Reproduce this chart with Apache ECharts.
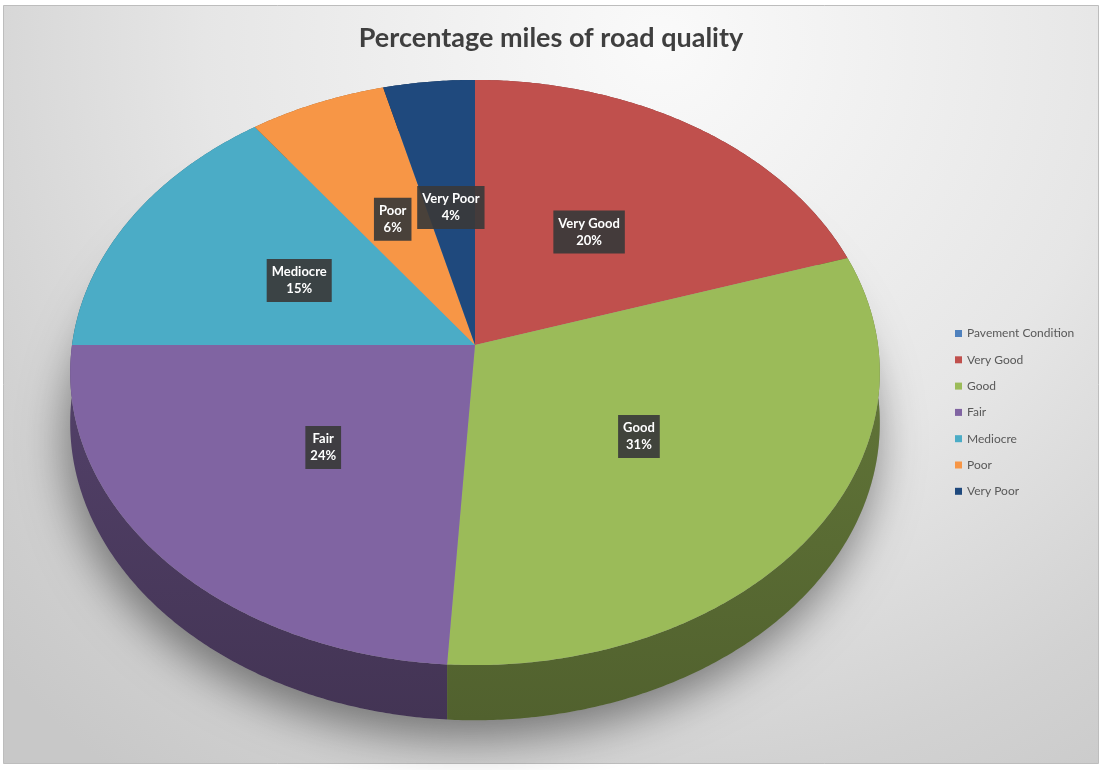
<!DOCTYPE html>
<html>
<head>
<meta charset="utf-8">
<script src="https://cdn.jsdelivr.net/npm/echarts@6/dist/echarts.min.js"></script>
<style>
html,body{margin:0;padding:0;background:#ffffff;}
#chart{width:1102px;height:770px;}
</style>
</head>
<body>
<div id="chart"></div>
<script>
// ---- data ----
const seriesName = 'Pavement Condition';
const categories = ['Very Good', 'Good', 'Fair', 'Mediocre', 'Poor', 'Very Poor'];
const values = [20, 31, 24, 15, 6, 4];
const legendNames = ['Pavement Condition', 'Very Good', 'Good', 'Fair', 'Mediocre', 'Poor', 'Very Poor'];
const legendValues = [0, 20, 31, 24, 15, 6, 4];

// ---- styles ----
const palette = ['#C0504D', '#9BBB59', '#8064A2', '#4BACC6', '#F79646', '#1F497D'];
const legendPalette = ['#4F81BD'].concat(palette);

// ---- 3D pie geometry (perspective projection) ----
const G = { cx: 475, cy: 345, rx: 403, ry: 290, k: 0.094, h: 50 };
const total = values.reduce((a, b) => a + b, 0);
const startFrac = [];
(function () { let c = 0; values.forEach(v => { startFrac.push(c / total); c += v; }); })();

function proj(theta, r, dz) {
  const x3 = r * Math.sin(theta);
  const d = -r * Math.cos(theta);
  const s = 1 / (1 - G.k * d);
  return [G.cx + G.rx * x3 * s, G.cy + G.ry * d * s + dz * s];
}
function arc(t0, t1, dz) {
  const pts = [];
  const n = Math.max(2, Math.ceil(Math.abs(t1 - t0) / (Math.PI / 360)));
  for (let i = 0; i <= n; i++) pts.push(proj(t0 + (t1 - t0) * i / n, 1, dz));
  return pts;
}
function shade(hex, f) {
  const n = parseInt(hex.slice(1), 16);
  const r = Math.round(((n >> 16) & 255) * f), g = Math.round(((n >> 8) & 255) * f), b = Math.round((n & 255) * f);
  return 'rgb(' + r + ',' + g + ',' + b + ')';
}
function angles(i) {
  const t0 = startFrac[i] * 2 * Math.PI;
  const t1 = t0 + values[i] / total * 2 * Math.PI;
  return [t0, t1];
}

function renderWall(params, api) {
  const i = params.dataIndex;
  const [t0, t1] = angles(i);
  const children = [];
  if (i === 0) {
    children.push({
      type: 'polygon',
      shape: { points: arc(0, 2 * Math.PI, G.h) },
      style: { fill: '#9a9a9a', shadowBlur: 45, shadowOffsetY: 18, shadowOffsetX: -4, shadowColor: 'rgba(0,0,0,0.45)' }
    });
  }
  const top = arc(t0, t1, 0);
  const bot = arc(t0, t1, G.h).reverse();
  children.push({
    type: 'polygon',
    shape: { points: top.concat(bot) },
    style: {
      fill: {
        type: 'linear', x: 0, y: 0, x2: 0, y2: 1,
        colorStops: [{ offset: 0, color: shade(palette[i], 0.66) }, { offset: 1, color: shade(palette[i], 0.52) }]
      }
    }
  });
  return { type: 'group', children: children };
}

function renderFace(params, api) {
  const i = params.dataIndex;
  const [t0, t1] = angles(i);
  const pts = [proj(0, 0, 0)].concat(arc(t0, t1, 0));
  const mid = (t0 + t1) / 2;
  const lp = proj(mid, 0.5, 0);
  const pct = Math.round(values[i] / total * 100) + '%';
  return {
    type: 'group',
    children: [
      { type: 'polygon', shape: { points: pts }, style: { fill: palette[i] } },
      {
        type: 'text', z2: 100,
        x: lp[0], y: lp[1],
        style: {
          text: categories[i] + '\n' + pct,
          fill: '#ffffff',
          font: 'bold 13px Lato, "Open Sans", sans-serif',
          lineHeight: 17,
          align: 'center', verticalAlign: 'middle',
          backgroundColor: 'rgba(58,58,58,0.92)',
          padding: [5, 5, 4, 5]
        }
      }
    ]
  };
}

const chart = echarts.init(document.getElementById('chart'), null, { renderer: 'canvas' });
chart.setOption({
  animation: false,
  title: {
    text: 'Percentage miles of road quality',
    left: 'center', top: 20,
    textStyle: { fontFamily: 'Lato, "Open Sans", sans-serif', fontWeight: 'bold', fontSize: 27, color: '#3f3f3f' }
  },
  graphic: [{
    type: 'rect', z: -10, silent: true,
    shape: { x: 3.5, y: 5.5, width: 1095, height: 758 },
    style: {
      fill: {
        type: 'radial', x: 0.6, y: 0.05, r: 1.2,
        colorStops: [
          { offset: 0, color: '#fafafa' },
          { offset: 0.5, color: '#e6e6e6' },
          { offset: 0.8, color: '#d2d2d2' },
          { offset: 1, color: '#c8c8c8' }
        ]
      },
      stroke: '#bdbdbd', lineWidth: 1
    }
  }],
  legend: {
    orient: 'vertical', left: 950, top: 322,
    icon: 'rect', itemWidth: 7, itemHeight: 7, itemGap: 13.3,
    data: legendNames.map((n, i) => ({ name: n, itemStyle: { color: legendPalette[i] } })),
    textStyle: { fontFamily: 'Lato, "Open Sans", sans-serif', fontSize: 12, color: '#595959', lineHeight: 13 },
    selectedMode: false
  },
  series: [
    {
      type: 'custom', name: 'walls', coordinateSystem: 'none', silent: true, z: 2,
      data: values, renderItem: renderWall
    },
    {
      type: 'custom', name: 'faces', coordinateSystem: 'none', silent: true, z: 3,
      data: values, renderItem: renderFace
    },
    {
      type: 'pie', name: seriesName, silent: true, radius: [0, 0], center: [-50, -50],
      label: { show: false }, labelLine: { show: false },
      data: legendNames.map((n, i) => ({ name: n, value: legendValues[i], itemStyle: { color: legendPalette[i] } }))
    }
  ]
});
</script>
</body>
</html>
